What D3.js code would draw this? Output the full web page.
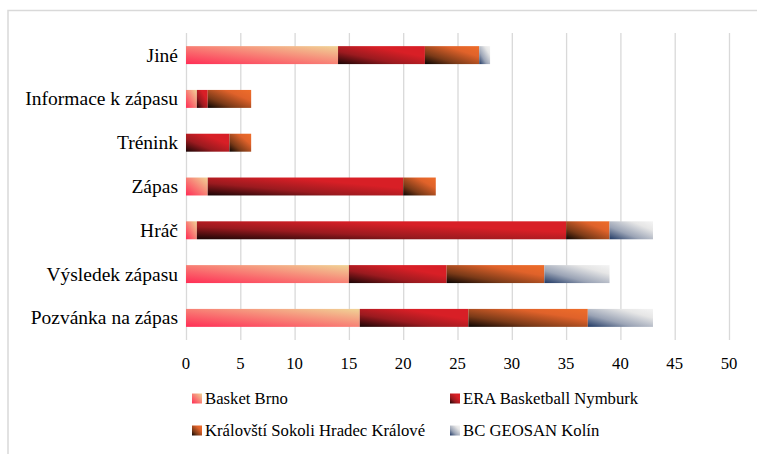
<!DOCTYPE html>
<html><head><meta charset="utf-8">
<script src="https://cdn.jsdelivr.net/npm/d3@7"></script>
</head><body style="margin:0">
<script>
const categories = ["Jiné","Informace k zápasu","Trénink","Zápas","Hráč","Výsledek zápasu","Pozvánka na zápas"];
const seriesNames = ["Basket Brno","ERA Basketball Nymburk","Královští Sokoli Hradec Králové","BC GEOSAN Kolín"];
const basketBrno = [14,1,0,2,1,15,16];
const eraNymburk = [8,1,4,18,34,9,10];
const sokoliHK = [5,4,2,3,4,9,11];
const geosanKolin = [1,0,0,0,4,6,6];
const xTicks = [0,5,10,15,20,25,30,35,40,45,50];

const gradStops = [
  [["#ff2d55",0],["#f0d496",1]],
  [["#1a0505",0],["#9a1a1f",0.35],["#d81f26",0.7],["#d81f26",1]],
  [["#0a0402",0],["#7a3a18",0.3],["#e0622a",0.7],["#ee6d2a",1]],
  [["#1f3864",0],["#9aa3b5",0.35],["#e6e6e6",0.75],["#f4f4f4",1]]
];

const W=757,H=454;
const FONT='"Liberation Serif", "Times New Roman", Tinos, serif';
const svg=d3.select("body").append("svg").attr("width",W).attr("height",H).style("display","block");
const defs=svg.append("defs");
gradStops.forEach((st,i)=>{
  const g=defs.append("linearGradient").attr("id","g"+i)
    .attr("x1",0).attr("y1",1).attr("x2",1).attr("y2",0);
  st.forEach(s=>g.append("stop").attr("offset",s[1]).attr("stop-color",s[0]));
});

svg.append("path").attr("d","M8,454 L8,10.5 L757,10.5").attr("fill","none").attr("stroke","#d9d9d9").attr("stroke-width",1.5);

const x=d3.scaleLinear().domain([0,50]).range([186,729]);
const y=d3.scaleBand().domain(categories).range([33,340]).paddingInner(0.59).paddingOuter(0.3);

svg.append("g").selectAll("line").data(xTicks).join("line")
  .attr("x1",d=>x(d)+0.5).attr("x2",d=>x(d)+0.5).attr("y1",33).attr("y2",340)
  .attr("stroke","#d9d9d9").attr("stroke-width",1.3);

const data=categories.map((c,i)=>({cat:c,v:[basketBrno[i],eraNymburk[i],sokoliHK[i],geosanKolin[i]]}));
const stack=d3.stack().keys([0,1,2,3]).value((d,k)=>d.v[k])(data);
stack.forEach((layer,k)=>{
  svg.append("g").selectAll("rect").data(layer.filter(d=>d[1]>d[0])).join("rect")
    .attr("x",d=>x(d[0])).attr("width",d=>x(d[1])-x(d[0]))
    .attr("y",d=>y(d.data.cat)).attr("height",y.bandwidth())
    .attr("fill","url(#g"+k+")");
});

svg.append("g").selectAll("text").data(categories).join("text")
  .attr("x",178).attr("y",d=>y(d)+y.bandwidth()/2+6.5)
  .attr("text-anchor","end").style("font-family",FONT).style("font-size","19.5px").text(d=>d);

svg.append("g").selectAll("text").data(xTicks).join("text")
  .attr("x",d=>x(d)).attr("y",369).attr("text-anchor","middle")
  .style("font-family",FONT).style("font-size","16.7px").text(d=>d);

const legPos=[[192,404],[450,404],[192,436],[450,436]];
seriesNames.forEach((n,i)=>{
  const [lx,ly]=legPos[i];
  svg.append("rect").attr("x",lx).attr("y",ly-10.5).attr("width",10).attr("height",10).attr("fill","url(#g"+i+")");
  svg.append("text").attr("x",lx+13).attr("y",ly)
    .style("font-family",FONT).style("font-size","16.7px").text(n);
});
</script>
</body></html>
